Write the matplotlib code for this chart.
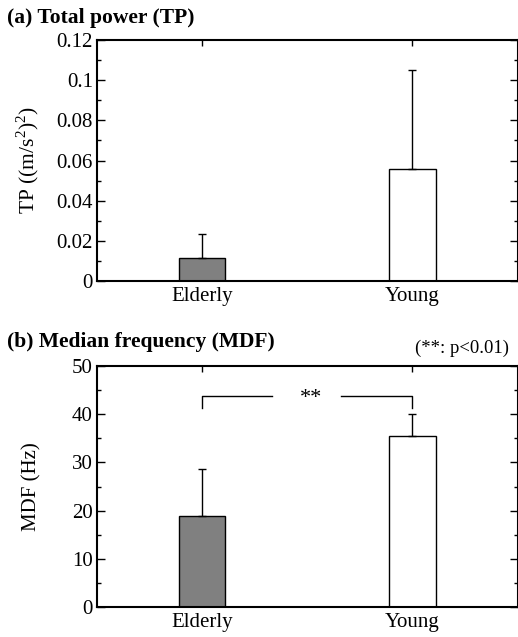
import matplotlib.pyplot as plt
import numpy as np

plt.rcParams['font.family'] = ['Liberation Serif', 'DejaVu Serif']
plt.rcParams['mathtext.fontset'] = 'custom'
plt.rcParams['mathtext.rm'] = 'Liberation Serif'

groups = ['Elderly', 'Young']
tp_mean = [0.0115, 0.0556]
tp_sd = [0.012, 0.0496]
mdf_mean = [18.9, 35.5]
mdf_sd = [9.7, 4.5]
bar_colors = ['#808080', 'white']

fig = plt.figure(figsize=(5.18, 6.37), dpi=100)
ax1 = fig.add_axes([97/518, 1 - 281/637, 420.5/518, 241/637])
ax2 = fig.add_axes([97/518, 1 - 607/637, 420.5/518, 241/637])

x = np.array([1, 2])

def draw(ax, mean, sd, ymax, major, minor):
    ax.bar(x, mean, width=0.22, color=bar_colors, edgecolor='black', linewidth=1.0, zorder=2)
    ax.errorbar(x, mean, yerr=[np.zeros(2), sd], fmt='none', ecolor='black',
                elinewidth=1.0, capsize=3, capthick=1.0, zorder=3)
    ax.set_xlim(0.5, 2.5)
    ax.set_ylim(0, ymax)
    ax.set_xticks(x)
    ax.set_xticklabels(groups, fontsize=15)
    ax.set_yticks(np.arange(0, ymax + major / 2, major))
    ax.set_yticks(np.arange(0, ymax + minor / 2, minor), minor=True)
    ax.tick_params(axis='both', which='both', direction='in', top=True, right=True,
                   labelsize=15, width=1.0)
    ax.tick_params(axis='y', which='major', length=6, pad=3)
    ax.tick_params(axis='y', which='minor', length=3)
    ax.tick_params(axis='x', which='major', length=4, pad=4)
    for s in ax.spines.values():
        s.set_linewidth(1.5)

draw(ax1, tp_mean, tp_sd, 0.12, 0.02, 0.01)
ax1.set_yticklabels(['0', '0.02', '0.04', '0.06', '0.08', '0.1', '0.12'])
ax1.set_ylabel(r'TP ((m/s$^2$)$^2$)', fontsize=15.5)
ax1.yaxis.set_label_coords(-56/420.5, 0.5)

draw(ax2, mdf_mean, mdf_sd, 50, 10, 5)
ax2.set_ylabel('MDF (Hz)', fontsize=15)
ax2.yaxis.set_label_coords(-56/420.5, 0.5)

# significance bracket
yb, yt = 41.3, 43.8
ax2.plot([1, 1, 1.33], [yb, yt, yt], color='black', lw=1.0)
ax2.plot([1.66, 2, 2], [yt, yt, yb], color='black', lw=1.0)
ax2.text(1.52, yt - 0.6, '**', ha='center', va='center', fontsize=16)

fig.text(7/518, 1 - 18/637, '(a) Total power (TP)', fontsize=15.5, fontweight='bold',
         ha='left', va='center')
fig.text(7/518, 1 - 342/637, '(b) Median frequency (MDF)', fontsize=15.5, fontweight='bold',
         ha='left', va='center')
fig.text(509/518, 1 - 348/637, '(**: p<0.01)', fontsize=13.5, ha='right', va='center')

fig.savefig('out.png', dpi=100)
